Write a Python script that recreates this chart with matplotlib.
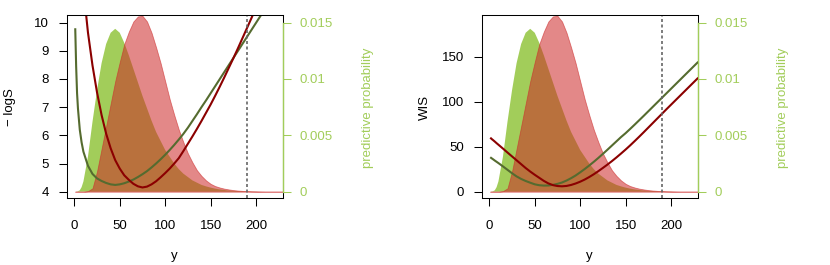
import matplotlib
matplotlib.use("Agg")
import matplotlib.pyplot as plt
from matplotlib.lines import Line2D

plt.rcParams['font.family'] = ['Liberation Sans', 'DejaVu Sans']

# ---- data ----
y_obs = [1, 2, 3, 4, 6, 8, 10, 15, 20, 25, 30, 35, 40, 45, 50, 55, 60, 65, 70, 75,
         80, 85, 90, 95, 100, 105, 110, 115, 120, 125, 130, 135, 140, 145, 150, 155,
         160, 165, 170, 175, 180, 185, 190, 195, 200, 205, 210, 215, 220, 225, 230]

prob_green = [0.0, 0.00001, 0.00002, 0.00004, 0.00012, 0.0004, 0.0009, 0.0031, 0.0062,
              0.0090, 0.0114, 0.0131, 0.0141, 0.01445, 0.0141, 0.0132, 0.0121, 0.0109,
              0.0097, 0.0085, 0.0074, 0.0063, 0.0053, 0.0045, 0.0037, 0.0031, 0.0025,
              0.0020, 0.0016, 0.0013, 0.0010, 0.0008, 0.0006, 0.00047, 0.00036, 0.00027,
              0.0002, 0.00015, 0.0001, 0.00007, 0.00005, 0.00003, 0.00002, 0.00001,
              0.00001, 0.0, 0.0, 0.0, 0.0, 0.0, 0.0]

prob_red = [0.0, 0.0, 0.0, 0.0, 0.0, 0.0, 0.0, 0.00005, 0.0003, 0.0018, 0.0038, 0.0058,
            0.0078, 0.0098, 0.0115, 0.0131, 0.0142, 0.0151, 0.01555, 0.0156, 0.0151,
            0.0141, 0.0128, 0.0114, 0.0098, 0.0082, 0.0068, 0.0055, 0.0044, 0.0034,
            0.0026, 0.0019, 0.0014, 0.0010, 0.0007, 0.0005, 0.00037, 0.00027, 0.0002,
            0.00014, 0.0001, 0.00007, 0.00005, 0.00003, 0.00002, 0.00001, 0.0, 0.0,
            0.0, 0.0, 0.0]

logs_green = [9.8, 8.45, 7.5, 6.95, 6.2, 5.75, 5.42, 4.92, 4.63, 4.47, 4.38, 4.31, 4.26,
              4.24, 4.26, 4.30, 4.36, 4.43, 4.52, 4.62, 4.73, 4.86, 5.00, 5.15, 5.31,
              5.48, 5.66, 5.85, 6.05, 6.27, 6.51, 6.75, 7.00, 7.24, 7.49, 7.74, 7.99,
              8.24, 8.49, 8.74, 8.99, 9.24, 9.49, 9.74, 9.99, 10.24, 10.49, 10.74,
              10.99, 11.24, 11.49]

logs_red = [15.3, 14.7, 14.1, 13.6, 12.7, 11.9, 11.2, 9.65, 8.48, 7.52, 6.72, 6.06, 5.54,
            5.12, 4.82, 4.58, 4.42, 4.28, 4.19, 4.15, 4.18, 4.26, 4.37, 4.51, 4.66, 4.82,
            5.0, 5.19, 5.44, 5.70, 5.96, 6.23, 6.51, 6.80, 7.09, 7.40, 7.72, 8.05, 8.39,
            8.73, 9.08, 9.44, 9.80, 10.16, 10.53, 10.9, 11.28, 11.66, 12.05, 12.45, 12.85]

wis_green = [38.3, 37.5, 36.8, 36.1, 34.6, 33.2, 31.8, 28.1, 24.3, 20.5, 17.0, 14.2, 11.9,
             10.0, 8.2, 7.2, 6.8, 6.9, 7.6, 8.7, 10.2, 12.4, 15.0, 18.0, 21.5, 25.2, 29.1,
             33.2, 37.5, 42.0, 46.6, 51.3, 56.0, 60.7, 65.0, 69.7, 74.5, 79.4, 84.3, 89.3,
             94.3, 99.3, 104.3, 109.3, 114.3, 119.3, 124.3, 129.3, 134.3, 139.3, 144.3]

wis_red = [60.0, 59.1, 58.2, 57.4, 55.7, 53.9, 52.2, 47.9, 43.5, 39.2, 34.9, 30.6, 26.3,
           22.4, 18.8, 15.4, 12.0, 9.2, 7.3, 6.3, 6.0, 6.4, 7.5, 9.1, 11.1, 13.5, 16.3,
           19.4, 22.8, 26.4, 30.1, 34.0, 38.1, 42.4, 46.8, 51.4, 56.2, 61.1, 66.1, 71.2,
           76.3, 81.4, 86.5, 91.6, 96.6, 101.6, 106.6, 111.6, 116.6, 121.6, 126.6]

observed = 190
x_ticks = [0, 50, 100, 150, 200]
logs_ticks = [4, 5, 6, 7, 8, 9, 10]
wis_ticks = [0, 50, 100, 150]
prob_ticks = [0, 0.005, 0.01, 0.015]
prob_tick_labels = ["0", "0.005", "0.01", "0.015"]

# ---- styling ----
GREEN_FILL = '#A2CD5A'
GREEN_TXT = '#A2CD5A'
RED_FILL = (205/255, 38/255, 38/255, 0.55)
RED_EDGE = (205/255, 45/255, 45/255, 0.6)
DARK_GREEN = '#556B2F'
DARK_RED = '#8B0000'
FS = 9.5

fig = plt.figure(figsize=(8.3, 2.65), dpi=100)
W, H = 830.0, 265.0

panels = [
    (66.7, logs_green, logs_red, (3.776, 10.27), logs_ticks, "\u2212 logS"),
    (481.7, wis_green, wis_red, (-7.0, 196.3), wis_ticks, "WIS"),
]

for left_px, sc_green, sc_red, ylim, yticks, ylabel in panels:
    ax = fig.add_axes([left_px / W, 67 / H, 216 / W, 183 / H])
    ax2 = ax.twinx()
    ax.set_zorder(ax2.get_zorder() + 1)
    ax.patch.set_visible(False)

    # predictive distributions
    ax2.fill_between(y_obs, 0, prob_green, facecolor=GREEN_FILL, edgecolor='none', lw=0)
    ax2.fill_between(y_obs, 0, prob_red, facecolor=RED_FILL, edgecolor=RED_EDGE, lw=0.6)
    ax2.set_ylim(-0.000561, 0.015675)
    ax2.set_yticks(prob_ticks)
    ax2.set_yticklabels(prob_tick_labels)
    ax2.tick_params(axis='y', colors=GREEN_TXT, length=5.8, width=0.75, pad=6.2,
                    labelsize=FS)
    for s in ['left', 'top', 'bottom']:
        ax2.spines[s].set_visible(False)
    ax2.add_line(Line2D([1, 1], [0, 1], transform=ax2.transAxes, color='black',
                        lw=0.75, clip_on=False, zorder=2.4))
    ax2.spines['right'].set_bounds(0, 0.015)
    ax2.spines['right'].set_color(GREEN_TXT)
    ax2.spines['right'].set_linewidth(1.0)
    ax2.spines['right'].set_zorder(2.5)

    # scores
    ax.plot(y_obs, sc_green, color=DARK_GREEN, lw=1.5, solid_capstyle='butt')
    ax.plot(y_obs, sc_red, color=DARK_RED, lw=1.5, solid_capstyle='butt')
    ax.axvline(observed, color='#666666', lw=1.2, linestyle=(0, (1.8, 1.5)))

    ax.set_xlim(-8.4, 229.4)
    ax.set_ylim(*ylim)
    ax.set_xticks(x_ticks)
    ax.set_xticklabels([str(t) for t in x_ticks])
    ax.set_yticks(yticks)
    ax.set_yticklabels([str(t) for t in yticks])
    ax.tick_params(axis='x', direction='out', length=5.5, width=0.75, pad=10.0,
                   labelsize=FS)
    ax.tick_params(axis='y', direction='out', length=5.8, width=0.75, pad=7.0,
                   labelsize=FS)
    ax.spines['right'].set_visible(False)
    for s in ['left', 'top', 'bottom']:
        ax.spines[s].set_linewidth(0.75)
        ax.spines[s].set_color('black')

    # labels
    cx = (left_px + 108) / W
    fig.text(cx, (H - 258.5) / H, "y", ha='center', va='baseline', fontsize=FS)
    fig.text((left_px - 56.7) / W, 1 - 107 / H, ylabel, rotation=90, ha='center',
             va='center', fontsize=FS)
    fig.text((left_px + 300.8) / W, 1 - 108 / H, "predictive probability",
             rotation=90, ha='center', va='center', fontsize=FS, color=GREEN_TXT)

fig.savefig("out.png", dpi=100)
